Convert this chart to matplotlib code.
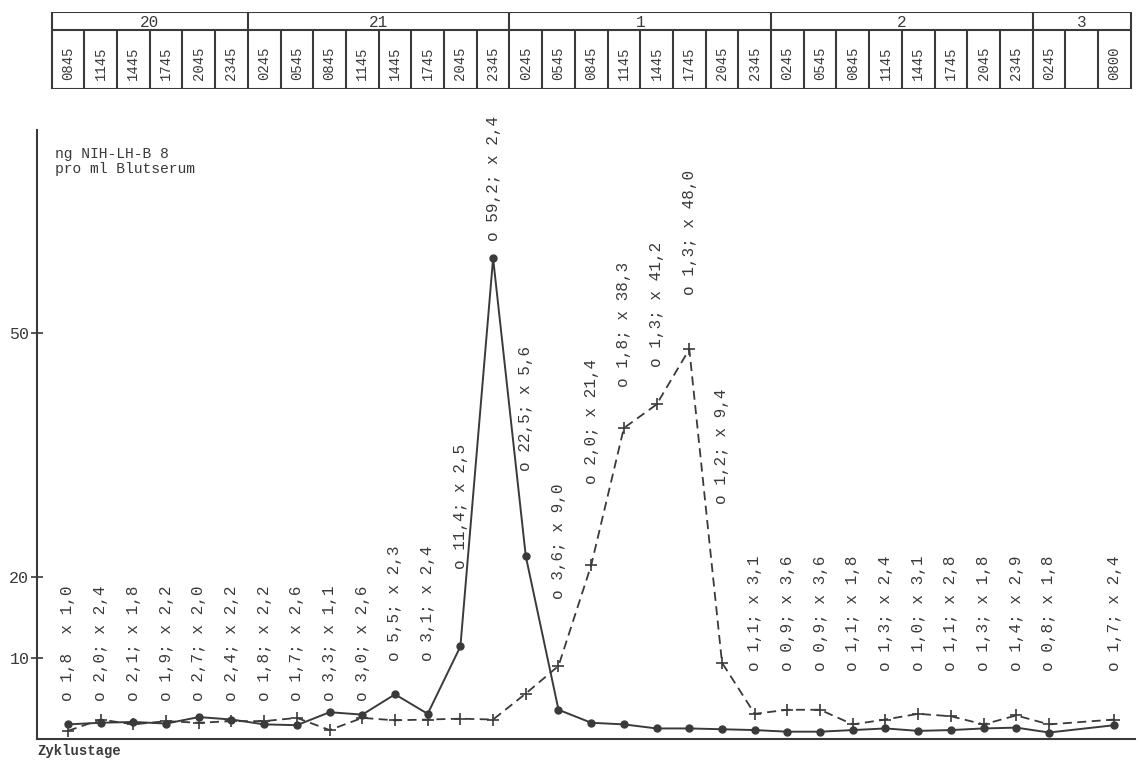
#!/usr/bin/env python3
"""LH-Spiegel im Blutserum um die Zyklusmitte (o und x), mit Zeittabelle oben"""

import numpy as np
import matplotlib.pyplot as plt

# Zyklustage und Abnahmezeiten (Spalten der Tabelle)
days = ['20', '21', '1', '2', '3']
times = [
    ['0845', '1145', '1445', '1745', '2045', '2345'],
    ['0245', '0545', '0845', '1145', '1445', '1745', '2045', '2345'],
    ['0245', '0545', '0845', '1145', '1445', '1745', '2045', '2345'],
    ['0245', '0545', '0845', '1145', '1445', '1745', '2045', '2345'],
    ['0245', '', '0800'],
]

# ng NIH-LH-B 8 pro ml Blutserum, nan = keine Probe
lh_o = [1.8, 2.0, 2.1, 1.9, 2.7, 2.4,
        1.8, 1.7, 3.3, 3.0, 5.5, 3.1, 11.4, 59.2,
        22.5, 3.6, 2.0, 1.8, 1.3, 1.3, 1.2, 1.1,
        0.9, 0.9, 1.1, 1.3, 1.0, 1.1, 1.3, 1.4,
        0.8, np.nan, 1.7]
lh_x = [1.0, 2.4, 1.8, 2.2, 2.0, 2.2,
        2.2, 2.6, 1.1, 2.6, 2.3, 2.4, 2.5, 2.4,
        5.6, 9.0, 21.4, 38.3, 41.2, 48.0, 9.4, 3.1,
        3.6, 3.6, 1.8, 2.4, 3.1, 2.8, 1.8, 2.9,
        1.8, np.nan, 2.4]

y_ticks = [10, 20, 50]

# where the rotated value labels start (in y units)
label_base = [4.7] * 10 + [9.6, 9.6, 20.9, 61.3, 33.0, 17.2, 31.4,
                           43.3, 45.8, 54.7, 28.9] + [8.4] * 12

INK = '#3a3a3a'
MONO = 'Liberation Mono'


def fmt(v):
    return f'{v:.1f}'.replace('.', ',')


def main():
    fig = plt.figure(figsize=(11.4, 7.6), dpi=100)
    W, H = 1140, 760
    xlim = (-0.948, 32.63)

    # main plot
    ax = fig.add_axes([37 / W, (H - 739) / H, (1135 - 37) / W, (739 - 130) / H])
    o = np.array(lh_o)
    x = np.array(lh_x)
    cols = np.arange(len(o))
    ok = ~np.isnan(o)

    ax.plot(cols[ok], o[ok], '-', color=INK, lw=1.4, marker='o', ms=5,
            mfc=INK, mec=INK)
    ax.plot(cols[ok], x[ok], color=INK, lw=1.3, dashes=(5, 3), marker='+',
            ms=8, mew=1.2)

    for i in cols[ok]:
        sep = '  ' if i == 0 else '; '  # first label has no semicolon
        txt = f'o {fmt(o[i])}{sep}x {fmt(x[i])}'
        ax.text(i, label_base[i], txt, rotation=90, ha='center', va='bottom',
                family=MONO, fontsize=11.5, color=INK)

    ax.set_xlim(*xlim)
    ax.set_ylim(0, 75)
    ax.set_yticks(y_ticks)
    ax.set_yticklabels([str(t) for t in y_ticks], family=MONO, fontsize=12,
                       color=INK)
    ax.tick_params(axis='y', direction='inout', length=9, width=1.2,
                   color=INK, pad=1)
    ax.set_xticks([])
    for side in ['top', 'right']:
        ax.spines[side].set_visible(False)
    for side in ['left', 'bottom']:
        ax.spines[side].set_color(INK)
        ax.spines[side].set_linewidth(1.5)

    ax.text(0.016, 0.972, 'ng NIH-LH-B 8\npro ml Blutserum',
            transform=ax.transAxes, ha='left', va='top', family=MONO,
            fontsize=10.5, color=INK, linespacing=1.1)
    fig.text(37 / W, (H - 744) / H, 'Zyklustage', ha='left', va='top',
             family=MONO, fontsize=10, color=INK, fontweight='bold')

    # time table on top
    tab = fig.add_axes([37 / W, (H - 89) / H, (1135 - 37) / W, (89 - 12) / H])
    tab.set_xlim(*xlim)
    tab.set_ylim(0, 1)
    tab.axis('off')
    mid = 0.766
    n_cols = sum(len(t) for t in times)
    lk = dict(color=INK, lw=1.5, solid_capstyle='butt')
    tab.plot([-0.5, n_cols - 0.5], [1, 1], **lk)
    tab.plot([-0.5, n_cols - 0.5], [0, 0], **lk)
    tab.plot([-0.5, n_cols - 0.5], [mid, mid], **lk)

    start = 0
    for day, tlist in zip(days, times):
        end = start + len(tlist)
        tab.plot([start - 0.5, start - 0.5], [0, 1], **lk)
        tab.text((start + end - 1) / 2, (1 + mid) / 2 - 0.02, day,
                 ha='center', va='center', family=MONO, fontsize=11.5,
                 color=INK)
        for k, t in enumerate(tlist):
            c = start + k
            if k > 0:
                tab.plot([c - 0.5, c - 0.5], [0, mid], **lk)
            if t:
                tab.text(c, mid / 2 - 0.05, t, rotation=90, ha='center',
                         va='center', family=MONO, fontsize=10, color=INK)
        start = end
    tab.plot([n_cols - 0.5, n_cols - 0.5], [0, 1], **lk)

    fig.savefig('out.png', dpi=100, facecolor='white')
    plt.close(fig)


if __name__ == '__main__':
    main()
